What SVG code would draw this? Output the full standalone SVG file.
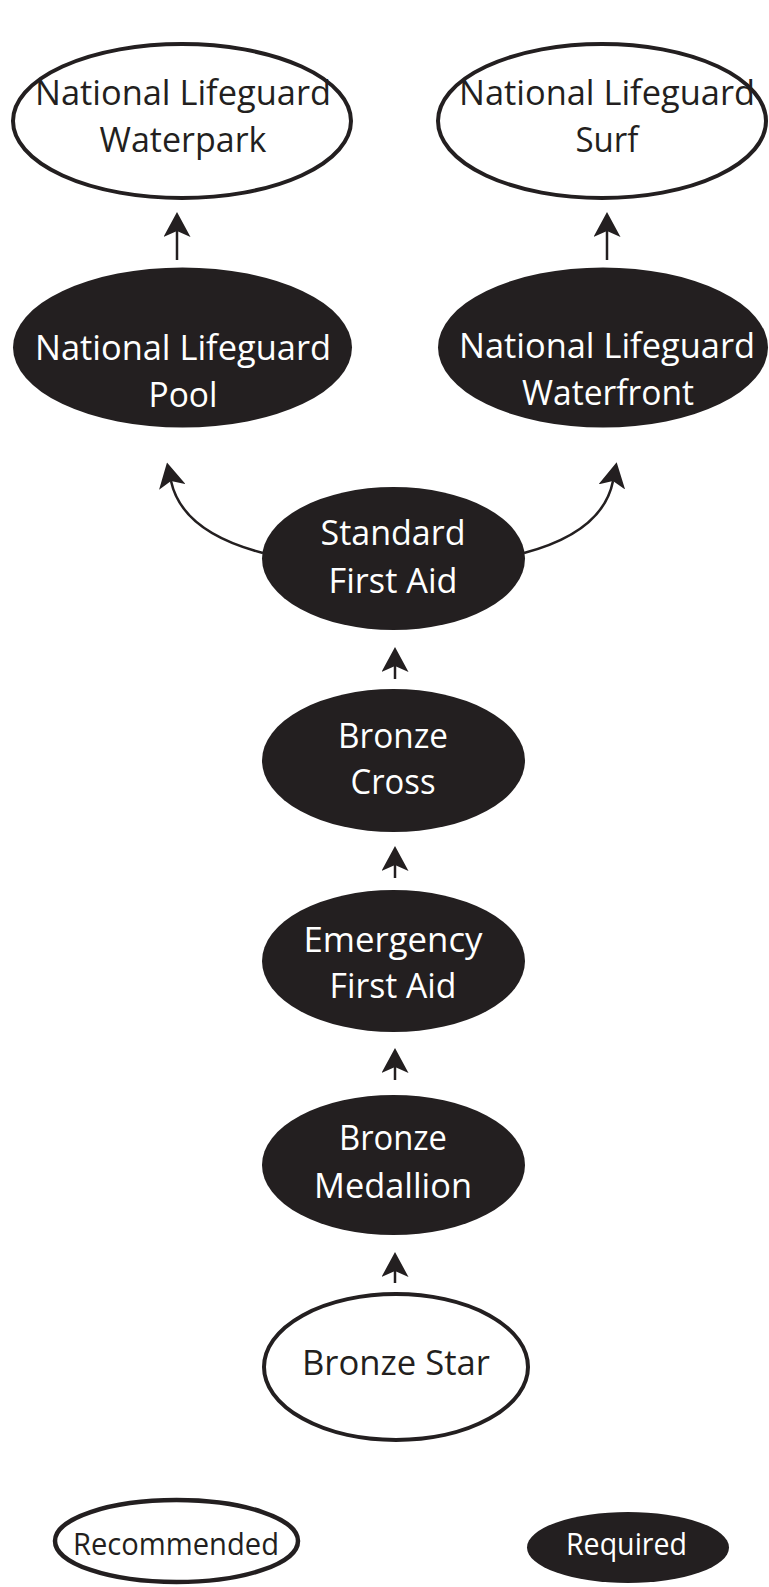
<svg xmlns="http://www.w3.org/2000/svg" width="769" height="1587" viewBox="0 0 769 1587">
<style>
.rec{fill:#ffffff;stroke:#231f20;stroke-width:4}
.leg{stroke-width:4.5}
.req{fill:#231f20;stroke:none}
.t{font-family:"Open Sans","Noto Sans","Liberation Sans",sans-serif;font-size:34px;text-anchor:middle}
.tl{font-family:"Open Sans","Noto Sans","Liberation Sans",sans-serif;font-size:31px;text-anchor:middle}
.dk{fill:#231f20}
.wt{fill:#ffffff}
.c{fill:none;stroke:#231f20;stroke-width:2.5}
</style>
<defs>
<marker id="ah" markerUnits="userSpaceOnUse" viewBox="0 0 25 27" markerWidth="25" markerHeight="27" refX="6" refY="13.5" orient="auto">
<path d="M25,13.5 L0,0 L6,13.5 L0,27 Z" fill="#231f20"/>
</marker>
</defs>
<rect width="769" height="1587" fill="#ffffff"/>
<g id="connectors">
<path class="c" d="M177,260 L177,231" marker-end="url(#ah)"/>
<path class="c" d="M607,260 L607,231" marker-end="url(#ah)"/>
<path class="c" d="M263,553 Q182,532 171,481" marker-end="url(#ah)"/>
<path class="c" d="M524,553 Q603,532 613,481" marker-end="url(#ah)"/>
<path class="c" d="M395,679 L395,666" marker-end="url(#ah)"/>
<path class="c" d="M395,878 L395,865" marker-end="url(#ah)"/>
<path class="c" d="M395,1080 L395,1067" marker-end="url(#ah)"/>
<path class="c" d="M395,1283 L395,1271" marker-end="url(#ah)"/>
</g>
<g id="waterpark">
<ellipse class="rec" cx="182" cy="121" rx="169" ry="77"/>
<text class="t dk" x="183" y="105" textLength="296" lengthAdjust="spacingAndGlyphs">National Lifeguard</text>
<text class="t dk" x="183" y="152" textLength="167" lengthAdjust="spacingAndGlyphs">Waterpark</text>
</g>
<g id="surf">
<ellipse class="rec" cx="602" cy="121" rx="164" ry="77"/>
<text class="t dk" x="607" y="105" textLength="296" lengthAdjust="spacingAndGlyphs">National Lifeguard</text>
<text class="t dk" x="607" y="152" textLength="63" lengthAdjust="spacingAndGlyphs">Surf</text>
</g>
<g id="pool">
<ellipse class="req" cx="182.5" cy="347.5" rx="169.5" ry="80"/>
<text class="t wt" x="183" y="360" textLength="296" lengthAdjust="spacingAndGlyphs">National Lifeguard</text>
<text class="t wt" x="183" y="407" textLength="69" lengthAdjust="spacingAndGlyphs">Pool</text>
</g>
<g id="waterfront">
<ellipse class="req" cx="603" cy="347.5" rx="165" ry="80"/>
<text class="t wt" x="607" y="358" textLength="296" lengthAdjust="spacingAndGlyphs">National Lifeguard</text>
<text class="t wt" x="608" y="405" textLength="172" lengthAdjust="spacingAndGlyphs">Waterfront</text>
</g>
<g id="standard-first-aid">
<ellipse class="req" cx="393.5" cy="558.5" rx="131.5" ry="71.5"/>
<text class="t wt" x="393" y="545" textLength="145" lengthAdjust="spacingAndGlyphs">Standard</text>
<text class="t wt" x="393" y="593" textLength="129" lengthAdjust="spacingAndGlyphs">First Aid</text>
</g>
<g id="bronze-cross">
<ellipse class="req" cx="393.5" cy="760.5" rx="131.5" ry="71.5"/>
<text class="t wt" x="393" y="748" textLength="110" lengthAdjust="spacingAndGlyphs">Bronze</text>
<text class="t wt" x="393" y="794" textLength="85" lengthAdjust="spacingAndGlyphs">Cross</text>
</g>
<g id="emergency-first-aid">
<ellipse class="req" cx="393.5" cy="961" rx="131.5" ry="71"/>
<text class="t wt" x="393" y="952" textLength="179" lengthAdjust="spacingAndGlyphs">Emergency</text>
<text class="t wt" x="393" y="998" textLength="127" lengthAdjust="spacingAndGlyphs">First Aid</text>
</g>
<g id="bronze-medallion">
<ellipse class="req" cx="393.5" cy="1165" rx="131.5" ry="70"/>
<text class="t wt" x="393" y="1150" textLength="108" lengthAdjust="spacingAndGlyphs">Bronze</text>
<text class="t wt" x="393" y="1198" textLength="158" lengthAdjust="spacingAndGlyphs">Medallion</text>
</g>
<g id="bronze-star">
<ellipse class="rec" cx="396" cy="1367" rx="132" ry="73"/>
<text class="t dk" x="396" y="1375" textLength="188" lengthAdjust="spacingAndGlyphs">Bronze Star</text>
</g>
<g id="legend-recommended">
<ellipse class="rec leg" cx="176.5" cy="1541" rx="121.5" ry="41"/>
<text class="tl dk" x="176" y="1555" textLength="206" lengthAdjust="spacingAndGlyphs">Recommended</text>
</g>
<g id="legend-required">
<ellipse class="req" cx="628" cy="1547.5" rx="101" ry="35.5"/>
<text class="tl wt" x="626.5" y="1555" textLength="121" lengthAdjust="spacingAndGlyphs">Required</text>
</g>
</svg>
